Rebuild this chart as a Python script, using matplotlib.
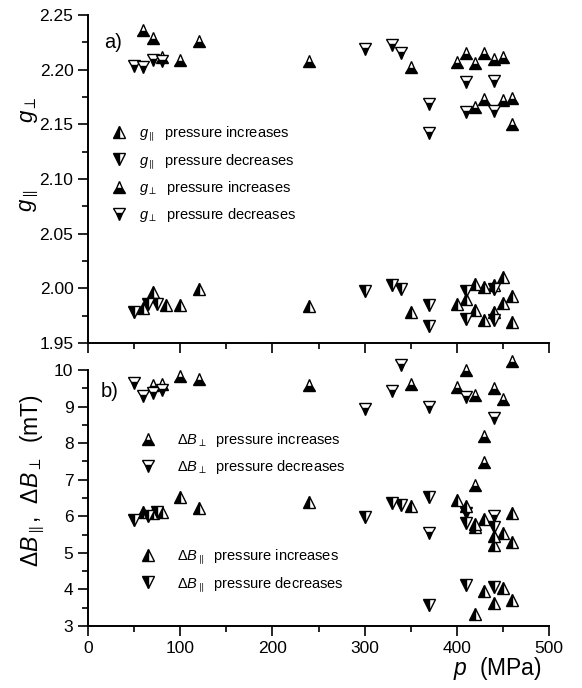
import matplotlib
matplotlib.use("Agg")
import matplotlib.pyplot as plt
from matplotlib.ticker import MultipleLocator, FormatStrFormatter

plt.rcParams['font.family'] = ['Liberation Sans', 'DejaVu Sans']
plt.rcParams['mathtext.fontset'] = 'custom'
plt.rcParams['mathtext.rm'] = 'Liberation Sans'
plt.rcParams['mathtext.it'] = 'Liberation Sans:italic'
plt.rcParams['mathtext.bf'] = 'Liberation Sans:bold'

# ---------------- data: panel a) g-factors ----------------
gpar_inc_p = [60, 70, 85, 100, 120, 240, 350, 400, 410, 420, 430, 440, 450, 460, 450, 420, 430, 440, 460]
gpar_inc_v = [1.982, 1.997, 1.985, 1.985, 1.999, 1.984, 1.978, 1.986, 1.990, 2.004, 2.001, 2.003, 2.010,
              1.993, 1.987, 1.980, 1.971, 1.978, 1.969]
gpar_dec_p = [50, 65, 75, 300, 330, 340, 370, 370, 410, 410, 440, 440]
gpar_dec_v = [1.978, 1.986, 1.986, 1.998, 2.003, 1.999, 1.985, 1.966, 1.998, 1.972, 1.999, 1.971]
gperp_inc_p = [60, 70, 80, 100, 120, 240, 350, 400, 410, 420, 430, 440, 450, 420, 430, 450, 460, 460]
gperp_inc_v = [2.236, 2.229, 2.212, 2.209, 2.226, 2.208, 2.202, 2.207, 2.215, 2.206, 2.215, 2.210, 2.212,
               2.166, 2.173, 2.172, 2.174, 2.150]
gperp_dec_p = [50, 60, 70, 80, 300, 330, 340, 370, 370, 410, 410, 440, 440]
gperp_dec_v = [2.203, 2.202, 2.209, 2.208, 2.219, 2.223, 2.215, 2.169, 2.142, 2.189, 2.161, 2.190, 2.162]

# ---------------- data: panel b) line widths (mT) ----------------
bperp_inc_p = [70, 80, 100, 120, 240, 350, 400, 410, 420, 440, 450, 460, 430, 430, 420]
bperp_inc_v = [9.60, 9.62, 9.84, 9.75, 9.60, 9.62, 9.53, 9.99, 9.32, 9.50, 9.20, 10.25, 8.20, 7.49, 6.86]
bperp_dec_p = [50, 60, 70, 80, 300, 330, 340, 370, 410, 440, 370, 410, 440]
bperp_dec_v = [9.65, 9.28, 9.36, 9.45, 8.92, 9.42, 10.13, 8.98, 9.27, 8.68, 5.54, 6.08, 6.00]
bpar_inc_p = [60, 70, 80, 100, 120, 240, 350, 400, 410, 420, 430, 440, 440, 450, 460, 460,
              430, 440, 450, 460, 420, 420]
bpar_inc_v = [6.12, 6.09, 6.12, 6.53, 6.22, 6.40, 6.28, 6.45, 6.28, 5.71, 5.92, 5.21, 5.45, 5.55, 6.10, 5.30,
              3.95, 3.64, 4.05, 3.70, 3.34, 5.78]
bpar_dec_p = [50, 65, 75, 300, 330, 340, 370, 410, 440, 410, 440, 370]
bpar_dec_v = [5.90, 6.02, 6.12, 5.98, 6.37, 6.31, 6.52, 5.81, 5.71, 4.12, 4.07, 3.58]

x_ticks = [0, 100, 200, 300, 400, 500]

W, H = 582, 688
fig = plt.figure(figsize=(W / 100, H / 100), dpi=100)

def ax_rect(l, t, r, b):
    return [l / W, 1 - b / H, (r - l) / W, (b - t) / H]

ax1 = fig.add_axes(ax_rect(88, 15, 549, 343))
ax2 = fig.add_axes(ax_rect(88, 370, 549, 626))

MS = 8
MEW = 1.0

def series(ax, x, y, marker, fill):
    return ax.plot(x, y, ls='none', marker=marker, fillstyle=fill, ms=MS, mew=MEW,
                   mfc='black', mfcalt='white', mec='black', clip_on=False)[0]

h1 = series(ax1, gpar_inc_p, gpar_inc_v, '^', 'left')
h2 = series(ax1, gpar_dec_p, gpar_dec_v, 'v', 'left')
h3 = series(ax1, gperp_inc_p, gperp_inc_v, '^', 'bottom')
h4 = series(ax1, gperp_dec_p, gperp_dec_v, 'v', 'bottom')

k1 = series(ax2, bperp_inc_p, bperp_inc_v, '^', 'bottom')
k2 = series(ax2, bperp_dec_p, bperp_dec_v, 'v', 'bottom')
k3 = series(ax2, bpar_inc_p, bpar_inc_v, '^', 'left')
k4 = series(ax2, bpar_dec_p, bpar_dec_v, 'v', 'left')

for ax in (ax1, ax2):
    ax.set_xlim(0, 500)
    ax.spines['top'].set_visible(False)
    ax.spines['right'].set_visible(False)
    for s in ('left', 'bottom'):
        ax.spines[s].set_linewidth(1.4)
    ax.xaxis.set_major_locator(MultipleLocator(100))
    ax.xaxis.set_minor_locator(MultipleLocator(50))
    ax.tick_params(which='major', direction='out', length=7, width=1.2, labelsize=12.5)
    ax.tick_params(which='minor', direction='out', length=4, width=1.2)

ax1.set_ylim(1.95, 2.25)
ax1.yaxis.set_major_locator(MultipleLocator(0.05))
ax1.yaxis.set_minor_locator(MultipleLocator(0.025))
ax1.yaxis.set_major_formatter(FormatStrFormatter('%.2f'))
ax1.tick_params(axis='x', labelbottom=False)

ax2.set_ylim(3, 10)
ax2.yaxis.set_major_locator(MultipleLocator(1))
ax2.yaxis.set_minor_locator(MultipleLocator(0.5))
ax2.set_xticks(x_ticks)

# panel labels
ax1.text((113 - 88) / 461, (343 - 42) / 328, 'a)', transform=ax1.transAxes,
         fontsize=14.5, ha='center', va='center')
ax2.text((110 - 88) / 461, (626 - 392) / 256, 'b)', transform=ax2.transAxes,
         fontsize=14.5, ha='center', va='center')

# y labels
fig.text(30 / W, 1 - 110 / H, r'$g_{\perp}$', rotation=90, fontsize=16, ha='center', va='center')
fig.text(30 / W, 1 - 200 / H, r'$g_{\parallel}$', rotation=90, fontsize=16, ha='center', va='center')
fig.text(33 / W, 1 - 480 / H, r'$\Delta B_{\parallel}$,  $\Delta B_{\perp}$  (mT)', rotation=90,
         fontsize=16.5, ha='center', va='center')

# x label
ax2.set_xlabel(r'$p$  (MPa)', fontsize=16.5)
ax2.xaxis.label.set_ha('right')
ax2.xaxis.set_label_coords((542 - 88) / 461, (626 - 655) / 256)

# legends
leg_kw = dict(frameon=False, loc='upper left', borderaxespad=0, borderpad=0,
              handlelength=1.0, fontsize=10.5, numpoints=1)
ax1.legend([h1, h2, h3, h4],
           [r'$g_{\parallel}$  pressure increases', r'$g_{\parallel}$  pressure decreases',
            r'$g_{\perp}$  pressure increases', r'$g_{\perp}$  pressure decreases'],
           bbox_to_anchor=((111.5 - 88) / 461, (343 - 124) / 328),
           handletextpad=0.9, labelspacing=0.6, **leg_kw)

lg1 = ax2.legend([k1, k2],
                 [r'$\Delta B_{\perp}$  pressure increases', r'$\Delta B_{\perp}$  pressure decreases'],
                 bbox_to_anchor=((140.5 - 88) / 461, (626 - 431) / 256),
                 handletextpad=1.5, labelspacing=0.6, **leg_kw)
ax2.add_artist(lg1)
ax2.legend([k3, k4],
           [r'$\Delta B_{\parallel}$  pressure increases', r'$\Delta B_{\parallel}$  pressure decreases'],
           bbox_to_anchor=((140.5 - 88) / 461, (626 - 547) / 256),
           handletextpad=1.5, labelspacing=0.6, **leg_kw)

fig.savefig('out.png', dpi=100)
